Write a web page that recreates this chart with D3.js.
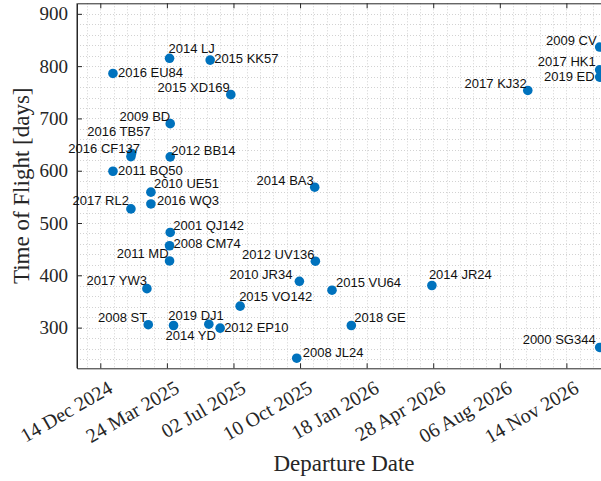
<!DOCTYPE html>
<html>
<head>
<meta charset="utf-8">
<script src="https://cdn.jsdelivr.net/npm/d3@7"></script>
<style>
  html, body { margin: 0; padding: 0; background: #fff; }
  svg { display: block; }
</style>
</head>
<body>
<svg id="chart" width="601" height="481"></svg>
<script>
// Near-Earth asteroid transfer opportunities: departure date vs. time of flight
const names = [
  "2014 LJ", "2016 EU84", "2009 BD", "2016 TB57", "2016 CF137", "2012 BB14",
  "2011 BQ50", "2010 UE51", "2016 WQ3", "2017 RL2", "2001 QJ142", "2008 CM74",
  "2011 MD", "2017 YW3", "2008 ST", "2014 YD", "2015 KK57", "2015 XD169",
  "2014 BA3", "2012 UV136", "2010 JR34", "2015 VU64", "2015 VO142", "2019 DJ1",
  "2012 EP10", "2018 GE", "2008 JL24", "2014 JR24", "2017 KJ32", "2009 CV",
  "2017 HK1", "2019 ED", "2000 SG344"
];
const departures = [
  "2025-03-28", "2025-01-02", "2025-03-29", "2025-01-30", "2025-01-29", "2025-03-29",
  "2025-01-02", "2025-02-28", "2025-02-28", "2025-01-29", "2025-03-29", "2025-03-28",
  "2025-03-28", "2025-02-22", "2025-02-24", "2025-04-03", "2025-05-28", "2025-06-28",
  "2025-11-01", "2025-11-02", "2025-10-09", "2025-11-27", "2025-07-12", "2025-05-26",
  "2025-06-12", "2025-12-26", "2025-10-05", "2026-04-26", "2026-09-17", "2027-01-03",
  "2027-01-03", "2027-01-03", "2027-01-03"
];
const tofDays = [
  815, 786, 690, 633, 627, 626.5,
  599, 559, 536.5, 527, 482, 456.5,
  427.5, 374.5, 305.5, 304, 811.5, 745.5,
  568.5, 427, 388.5, 371.5, 341, 306.5,
  299, 304, 241.5, 380.5, 753.5, 836.5,
  793, 779, 262
];

// Label placement: which side of the marker the text sits on, and its nudge in px
const labelSide = [
  "R", "R", "L", "L", "L", "R",
  "R", "R", "R", "L", "R", "R",
  "L", "L", "L", "R", "R", "L",
  "L", "L", "L", "R", "R", "L",
  "R", "R", "R", "R", "L", "L",
  "L", "L", "L"
];
const labelNudge = [
  [-1, -10], [5, -1], [0, -7], [19, -22], [9, -8], [1, -6],
  [5, -1], [3, -9], [6, -3], [-2, -8], [3, -7], [4, -2],
  [-1, -7], [0, -8], [-1, -7], [-8, 10], [4, -2], [-1, -7],
  [-1, -7], [-1, -7], [-7, -7], [4, -8], [-1, -10], [15, -9],
  [4, -1], [3, -8], [6, -6], [-3, -11], [-1, -7], [-3, -7],
  [-4, -8], [-5, -1], [-4, -8]
];

const xTickDates = ["2024-12-14", "2025-03-24", "2025-07-02", "2025-10-10",
                    "2026-01-18", "2026-04-28", "2026-08-06", "2026-11-14"];
const xTickLabels = ["14 Dec 2024", "24 Mar 2025", "02 Jul 2025", "10 Oct 2025",
                     "18 Jan 2026", "28 Apr 2026", "06 Aug 2026", "14 Nov 2026"];
const yTicks = [300, 400, 500, 600, 700, 800, 900];
const xLimits = ["2024-11-09", "2027-01-20"];

const parse = d3.utcParse("%Y-%m-%d");
const points = names.map((n, i) => ({
  name: n,
  date: parse(departures[i]),
  tof: tofDays[i],
  side: labelSide[i],
  nudge: labelNudge[i]
}));

const svg = d3.select("#chart");
const plot = { left: 77, top: 3.3, right: 611, bottom: 368.3 };

const x = d3.scaleUtc()
  .domain(xLimits.map(parse))
  .range([plot.left, plot.right]);
const y = d3.scaleLinear()
  .domain([0.92 * d3.min(tofDays), 1.1 * d3.max(tofDays)])
  .range([plot.bottom, plot.top]);

const axisColor = "#262626";
const serif = "'Liberation Serif', 'Times New Roman', serif";
const gridColor = "#d2d2d2";

// Grid: minor every 20 units, major at the ticks, all dotted
const origin = parse(xTickDates[0]);
const xMinor = d3.range(-60, 820, 20).map(d => d3.utcDay.offset(origin, d))
  .filter(d => x(d) > plot.left + 0.5 && x(d) < plot.right - 0.5);
const yMinor = d3.range(220, 940, 20)
  .filter(v => y(v) < plot.bottom - 0.5 && y(v) > plot.top + 0.5);

const grid = svg.append("g").attr("class", "grid");
grid.selectAll("line.gx").data(xMinor).join("line")
  .attr("x1", d => Math.round(x(d)) + 0.5).attr("x2", d => Math.round(x(d)) + 0.5)
  .attr("y1", plot.top).attr("y2", plot.bottom)
  .attr("stroke", gridColor).attr("stroke-width", 1).attr("stroke-dasharray", "1,2");
grid.selectAll("line.gy").data(yMinor).join("line")
  .attr("y1", d => Math.round(y(d)) + 0.5).attr("y2", d => Math.round(y(d)) + 0.5)
  .attr("x1", plot.left).attr("x2", plot.right)
  .attr("stroke", gridColor).attr("stroke-width", 1).attr("stroke-dasharray", "1,2");

// Axes box with inward ticks
const tickDates = xTickDates.map(parse);
const fmtX = d => xTickLabels[xTickDates.indexOf(d3.utcFormat("%Y-%m-%d")(d))];

const xAxis = svg.append("g")
  .attr("transform", `translate(0,${plot.bottom})`)
  .call(d3.axisBottom(x).tickValues(tickDates).tickSizeInner(-5).tickSizeOuter(0).tickFormat(fmtX));
const xAxisTop = svg.append("g")
  .attr("transform", `translate(0,${plot.top})`)
  .call(d3.axisTop(x).tickValues(tickDates).tickSizeInner(-5).tickSizeOuter(0).tickFormat(""));
const yAxis = svg.append("g")
  .attr("transform", `translate(${plot.left},0)`)
  .call(d3.axisLeft(y).tickValues(yTicks).tickSizeInner(-5).tickSizeOuter(0).tickPadding(9));

[xAxis, xAxisTop, yAxis].forEach(g => {
  g.select(".domain").attr("stroke", axisColor).attr("stroke-width", 1);
  g.selectAll(".tick line").attr("stroke", axisColor).attr("stroke-width", 1);
});

yAxis.selectAll(".tick text")
  .attr("font-family", serif).attr("font-size", 19).attr("fill", axisColor);

xAxis.selectAll(".tick text")
  .attr("font-family", serif).attr("font-size", 20).attr("fill", axisColor)
  .attr("text-anchor", "end")
  .attr("y", 0).attr("dy", "0.72em")
  .attr("transform", "translate(6,11) rotate(-30)");

// Left edge of the box
svg.append("line")
  .attr("x1", plot.left).attr("x2", plot.left)
  .attr("y1", plot.top).attr("y2", plot.bottom)
  .attr("stroke", axisColor).attr("stroke-width", 1);

// Axis titles
svg.append("text")
  .attr("x", (plot.left + plot.right) / 2).attr("y", 470.5)
  .attr("text-anchor", "middle")
  .attr("font-family", serif).attr("font-size", 23).attr("fill", axisColor)
  .text("Departure Date");

svg.append("text")
  .attr("transform", `translate(28.5,${(plot.top + plot.bottom) / 2}) rotate(-90)`)
  .attr("text-anchor", "middle")
  .attr("font-family", serif).attr("font-size", 23).attr("fill", axisColor)
  .text("Time of Flight [days]");

// Markers
svg.append("g").selectAll("circle").data(points).join("circle")
  .attr("cx", d => x(d.date)).attr("cy", d => y(d.tof))
  .attr("r", 4.8).attr("fill", "#0072BD");

// Designation labels
svg.append("g").selectAll("text").data(points).join("text")
  .attr("x", d => x(d.date) + d.nudge[0])
  .attr("y", d => y(d.tof) + d.nudge[1])
  .attr("text-anchor", d => d.side === "L" ? "end" : "start")
  .attr("dominant-baseline", "central")
  .attr("font-family", "'Liberation Sans', Arial, Helvetica, sans-serif")
  .attr("font-size", 13).attr("fill", "#111")
  .text(d => d.name);
</script>
</body>
</html>
